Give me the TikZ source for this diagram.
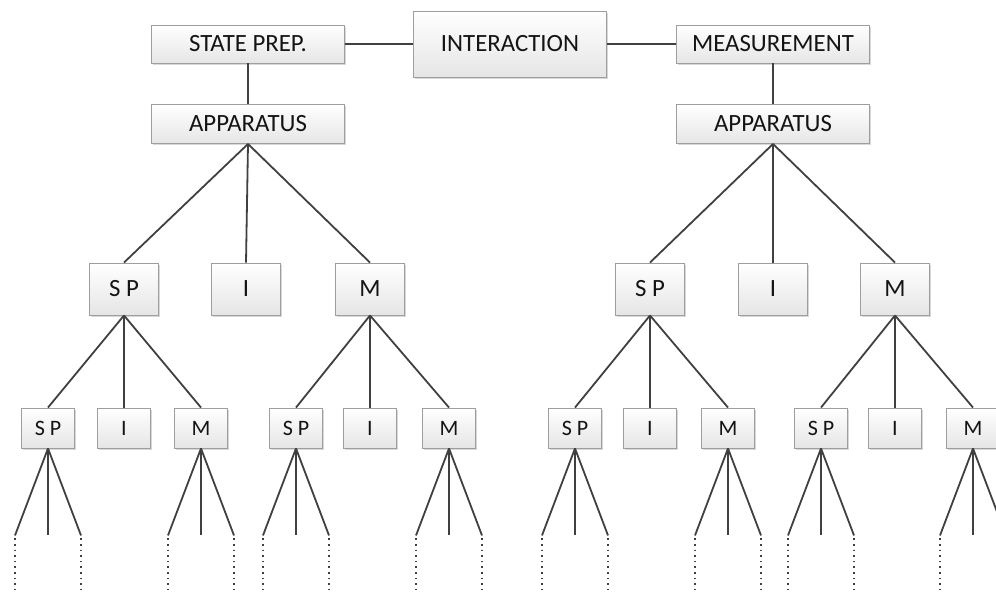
\documentclass[tikz,border=0pt]{standalone}
\usepackage{fontspec}
\setmainfont{Carlito}
\usetikzlibrary{shadows}
\tikzset{
  box/.style={rectangle, draw=black!38, line width=0.9pt, top color=white, bottom color=black!10,
    inner sep=0pt, text=black!92,
    drop shadow={shadow xshift=1.6pt, shadow yshift=-1.6pt, fill=black!30, opacity=0.5}},
  bigbox/.style={box, minimum width=193pt, minimum height=38pt, font=\fontsize{24.8}{25}\selectfont},
  midbox/.style={box, minimum width=69pt, minimum height=52pt, font=\fontsize{24.8}{25}\selectfont},
  smallbox/.style={box, minimum width=53pt, minimum height=40pt, font=\fontsize{22}{22}\selectfont},
  conn/.style={draw=black!75, line width=1.8pt},
  dotline/.style={draw=black!75, line width=1.6pt, dash pattern=on 1.6pt off 4pt}
}
\begin{document}
\begin{tikzpicture}[x=1pt,y=-1pt]
\useasboundingbox (0,0) rectangle (996,594);
\clip (0,0) rectangle (996,594);
% top row
\node[bigbox] (sp0) at (248,44) {STATE PREP.};
\node[bigbox, minimum height=66pt] (int0) at (510,44) {INTERACTION};
\node[bigbox] (meas0) at (773,44) {MEASUREMENT};
\node[bigbox, minimum height=39pt] (appL) at (248,124) {APPARATUS};
\node[bigbox, minimum height=39pt] (appR) at (773,124) {APPARATUS};
% level 2
\node[midbox] (a)  at (124,289) {S P};
\node[midbox] (ai) at (246,289) {I};
\node[midbox] (b)  at (370,289) {M};
\node[midbox] (c)  at (650,289) {S P};
\node[midbox] (ci) at (773,289) {I};
\node[midbox] (d)  at (895,289) {M};
% level 3
\node[smallbox] (a1) at (48,428) {S P};
\node[smallbox] (a2) at (124,428) {I};
\node[smallbox] (a3) at (201,428) {M};
\node[smallbox] (b1) at (296,428) {S P};
\node[smallbox] (b2) at (370,428) {I};
\node[smallbox] (b3) at (449,428) {M};
\node[smallbox] (c1) at (575,428) {S P};
\node[smallbox] (c2) at (650,428) {I};
\node[smallbox] (c3) at (728,428) {M};
\node[smallbox] (d1) at (821,428) {S P};
\node[smallbox] (d2) at (895,428) {I};
\node[smallbox] (d3) at (973,428) {M};
% connectors
\draw[conn] (sp0.east) -- (int0.west);
\draw[conn] (int0.east) -- (meas0.west);
\draw[conn] (sp0.south) -- (appL.north);
\draw[conn] (meas0.south) -- (appR.north);
\foreach \p/\q in {appL/a, appL/ai, appL/b, appR/c, appR/ci, appR/d,
                   a/a1, a/a2, a/a3, b/b1, b/b2, b/b3, c/c1, c/c2, c/c3, d/d1, d/d2, d/d3}
  \draw[conn] (\p.south) -- (\q.north);
% open-ended fans
\foreach \n in {a1,a3,b1,b3,c1,c3,d1,d3}{
  \coordinate (\n L) at ([xshift=-33pt,yshift=-87pt]\n.south);
  \coordinate (\n M) at ([yshift=-87pt]\n.south);
  \coordinate (\n R) at ([xshift=33pt,yshift=-87pt]\n.south);
  \coordinate (\n LE) at ([xshift=-33pt,yshift=-150pt]\n.south);
  \coordinate (\n RE) at ([xshift=33pt,yshift=-150pt]\n.south);
  \draw[conn] (\n.south) -- (\n L);
  \draw[conn] (\n.south) -- (\n M);
  \draw[conn] (\n.south) -- (\n R);
  \draw[dotline] ([yshift=-3pt]\n L) -- (\n LE);
  \draw[dotline] ([yshift=-3pt]\n R) -- (\n RE);
}
\end{tikzpicture}
\end{document}
